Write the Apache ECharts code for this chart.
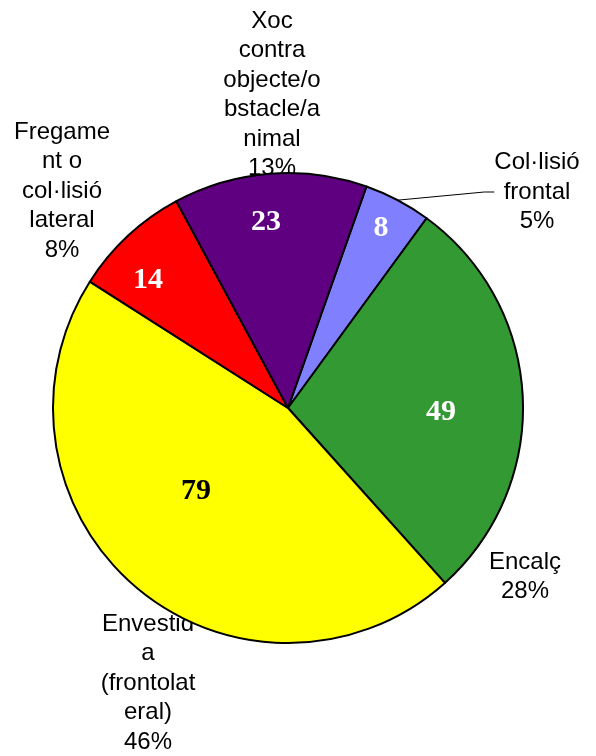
<!DOCTYPE html>
<html>
<head>
<meta charset="utf-8">
<script src="https://cdn.jsdelivr.net/npm/echarts@6/dist/echarts.min.js"></script>
<style>
  html, body { margin: 0; padding: 0; background: #fff; }
  #chart { width: 596px; height: 756px; }
</style>
</head>
<body>
<div id="chart"></div>
<script>
// dades
var categories = ['Col·lisió frontal', 'Encalç', 'Envestida (frontolateral)', 'Fregament o col·lisió lateral', 'Xoc contra objecte/obstacle/animal'];
var values = [8, 49, 79, 14, 23];
// text partit com a l'original
var wrappedNames = ['Col·lisió\nfrontal', 'Encalç', 'Envestid\na\n(frontolat\neral)', 'Fregame\nnt o\ncol·lisió\nlateral', 'Xoc\ncontra\nobjecte/o\nbstacle/a\nnimal'];
var colors = ['#8080ff', '#339933', '#ffff00', '#ff0000', '#5f0080'];
var valueColors = ['#fff', '#fff', '#000', '#fff', '#fff'];

(function() {
  var myChart = echarts.init(document.getElementById('chart'));

  // posicions de les etiquetes (col·locades a mà a l'original)
  var outerPos = [[537, 192], [525, 577], [148, 683], [62, 191], [272, 95]];
  var innerPos = [[381, 228], [441, 412], [196, 491], [148, 280], [266, 222]];

  var total = values.reduce(function(a, b) { return a + b; }, 0);

  var pieData = categories.map(function(name, i) {
    return {
      name: name,
      value: values[i],
      itemStyle: { color: colors[i] },
      label: { color: valueColors[i] }
    };
  });
  var labelData = categories.map(function(name, i) {
    return {
      name: name,
      value: values[i],
      labelLine: { show: i === 0 }
    };
  });

  var option = {
    animation: false,
    series: [
      {
        // etiquetes exteriors, per sota del pastís
        type: 'pie',
        z: 1,
        silent: true,
        center: [288, 408],
        radius: 235,
        startAngle: 70.5,
        clockwise: true,
        avoidLabelOverlap: false,
        itemStyle: { color: 'rgba(0,0,0,0)', borderWidth: 0 },
        label: {
          show: true,
          position: 'outside',
          color: '#000',
          fontFamily: 'Liberation Sans, Arial, sans-serif',
          fontSize: 24,
          lineHeight: 29.5,
          align: 'center',
          formatter: function(p) {
            return wrappedNames[p.dataIndex] + '\n' + Math.round(p.value / total * 100) + '%';
          }
        },
        labelLine: {
          show: false,
          length: 30,
          length2: 10,
          lineStyle: { color: '#000', width: 1 }
        },
        labelLayout: function(p) {
          var pos = outerPos[p.dataIndex];
          return { x: pos[0], y: pos[1], align: 'center', verticalAlign: 'middle' };
        },
        data: labelData
      },
      {
        type: 'pie',
        z: 2,
        silent: true,
        center: [288, 408],
        radius: 235,
        startAngle: 70.5,
        clockwise: true,
        itemStyle: { borderColor: '#000', borderWidth: 2 },
        label: {
          show: true,
          position: 'inside',
          fontFamily: 'Liberation Serif, Times New Roman, serif',
          fontWeight: 'bold',
          fontSize: 30,
          formatter: function(p) {
            return p.value;
          }
        },
        labelLayout: function(p) {
          var pos = innerPos[p.dataIndex];
          return { x: pos[0], y: pos[1], align: 'center', verticalAlign: 'middle' };
        },
        data: pieData
      }
    ]
  };

  myChart.setOption(option);
  window.addEventListener('resize', function() {
    myChart.resize();
  });
})();
</script>
</body>
</html>
